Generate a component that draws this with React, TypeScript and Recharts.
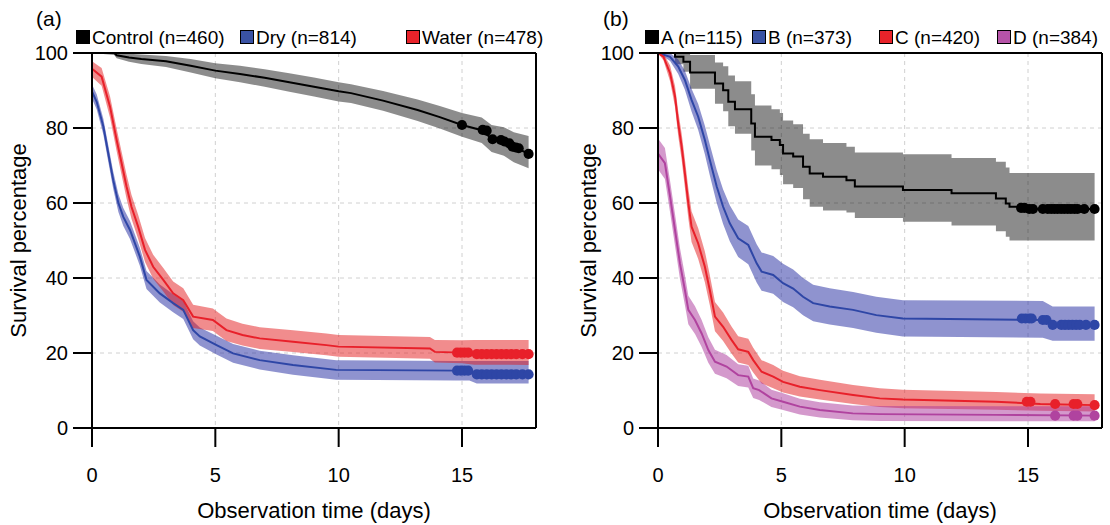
import React from 'react';
import {
  ComposedChart,
  Line,
  Area,
  Scatter,
  XAxis,
  YAxis,
  ZAxis,
  CartesianGrid,
  ReferenceLine,
} from 'recharts';

// ---- panel (a) ----
const controlT = [0, 0.9, 1.0, 1.5, 2, 3, 4, 5, 6, 7, 8, 9, 10, 10.5, 11.8, 13.2, 14.1, 15, 15.8, 16.2, 16.7, 17.1, 17.7];
const controlS = [100, 100, 99.4, 98.8, 98.4, 97.8, 96.6, 95.3, 94.4, 93.4, 92.2, 91.0, 89.8, 89.3, 87.3, 84.8, 82.9, 80.8, 79.4, 77.2, 76.4, 75.0, 73.1];
const controlHi = [100, 100, 100, 99.8, 99.6, 99.2, 98.4, 97.3, 96.6, 95.7, 94.6, 93.5, 92.2, 91.7, 89.9, 87.6, 85.9, 84.0, 82.8, 80.8, 80.2, 78.9, 77.9];
const controlLo = [100, 99.5, 98.6, 97.7, 97.1, 96.3, 94.8, 93.3, 92.2, 91.0, 89.7, 88.4, 87.1, 86.7, 84.6, 81.9, 79.9, 77.7, 76.0, 73.6, 72.6, 70.9, 69.3];
const controlCensT = [15.0, 15.84, 16.0, 16.24, 16.58, 16.72, 16.92, 17.05, 17.18, 17.3, 17.7];
const controlCensS = [80.8, 79.5, 79.3, 77.0, 76.8, 76.4, 75.9, 75.0, 74.8, 74.6, 73.1];

const dryT = [0, 0.19, 0.46, 0.66, 0.86, 1.07, 1.27, 1.54, 1.94, 2.21, 2.75, 3.29, 3.7, 4.1, 4.37, 5.05, 5.72, 6.8, 8.15, 9.9, 14.8, 15.3, 15.6, 17.7];
const dryS = [89.7, 87, 80.4, 73.2, 66.1, 60, 56.3, 52.8, 45.7, 39.5, 35.9, 33.3, 31.5, 26.1, 24.4, 22.1, 19.9, 18.1, 16.8, 15.5, 15.3, 15.3, 14.3, 14.3];
const dryHi = [91.6, 89, 82.5, 75.4, 68.4, 62.4, 58.7, 55.2, 48.1, 41.9, 38.3, 35.7, 33.9, 28.5, 26.8, 24.6, 22.4, 20.6, 19.4, 18.1, 17.9, 17.9, 17.9, 17.9];
const dryLo = [87.8, 85, 78.3, 71.0, 63.8, 57.6, 53.9, 50.4, 43.3, 37.1, 33.5, 30.9, 29.1, 23.7, 22.0, 19.6, 17.4, 15.6, 14.2, 12.9, 12.7, 12.7, 11.9, 11.9];
const dryCensT = [14.8, 14.95, 15.1, 15.25, 15.6, 15.8, 16.0, 16.2, 16.4, 16.6, 16.8, 17.0, 17.2, 17.45, 17.7];
const dryCensS = [15.3, 15.3, 15.3, 15.3, 14.3, 14.3, 14.3, 14.3, 14.3, 14.3, 14.3, 14.3, 14.3, 14.3, 14.3];

const waterT = [0, 0.39, 0.73, 1.0, 1.2, 1.4, 1.6, 1.87, 2.15, 2.48, 2.89, 3.29, 3.7, 4.1, 4.9, 5.45, 6.1, 6.8, 8.15, 9.5, 10.0, 13.7, 13.9, 15.0, 15.5, 17.7];
const waterS = [95.8, 93.7, 85.7, 76.8, 70.6, 64.4, 59, 53.7, 47.5, 43, 39.5, 35.9, 34.1, 29.7, 28.8, 26.1, 24.8, 23.9, 23, 22.1, 21.7, 21.2, 20.3, 20.1, 19.7, 19.7];
const waterHi = [97.8, 96, 88.5, 79.8, 73.7, 67.6, 62.2, 56.9, 50.7, 46.2, 42.7, 39.1, 37.3, 32.9, 31.9, 29.2, 27.8, 26.9, 26.1, 25.2, 24.8, 24.3, 23.5, 23.4, 23.5, 23.5];
const waterLo = [93.6, 91.3, 82.8, 73.8, 67.5, 61.2, 55.8, 50.5, 44.3, 39.8, 36.4, 32.8, 31.0, 26.7, 25.9, 23.2, 22.0, 21.1, 20.3, 19.4, 19.0, 18.5, 17.5, 17.3, 16.9, 16.8];
const waterCensT = [14.8, 14.95, 15.1, 15.25, 15.6, 15.8, 16.0, 16.2, 16.4, 16.6, 16.8, 17.0, 17.2, 17.45, 17.7];
const waterCensS = [20.1, 20.1, 20.1, 20.1, 19.7, 19.7, 19.7, 19.7, 19.7, 19.7, 19.7, 19.7, 19.7, 19.7, 19.7];

// ---- panel (b) ----
const aT = [0, 0.69, 1.03, 1.3, 2.31, 2.64, 2.85, 3.12, 3.78, 3.93, 4.6, 4.94, 5.07, 5.48, 5.88, 6.15, 6.69, 7.64, 7.98, 9.93, 11.9, 13.7, 14.1, 14.25, 14.7, 17.7];
const aS = [100, 99, 97.7, 94.8, 91.9, 90.1, 87, 85, 81.2, 77.7, 76.8, 75.5, 73.2, 72.4, 69.7, 67.9, 67, 66.1, 64.4, 63.5, 62.6, 61.2, 59.9, 59, 58.4, 58.4];
const aHi = [100, 100, 100, 99.5, 97.5, 96.5, 94, 92.5, 89, 86, 85, 84, 82, 81, 78.5, 77, 76, 75, 73.5, 73, 72, 71, 69.5, 68, 68, 68];
const aLo = [100, 97, 95, 90.5, 86.5, 84.5, 80.5, 78.5, 74, 70, 69, 67.5, 65, 64, 61, 59, 58, 57.5, 56, 55, 54, 52.5, 51, 50, 50, 50];
const aCensT = [14.72, 14.85, 15.05, 15.2, 15.6, 15.8, 15.94, 16.07, 16.2, 16.34, 16.47, 16.61, 16.74, 16.88, 17.01, 17.28, 17.7];
const aCensS = [58.7, 58.7, 58.4, 58.4, 58.4, 58.4, 58.4, 58.4, 58.4, 58.4, 58.4, 58.4, 58.4, 58.4, 58.4, 58.4, 58.4];

const bT = [0, 0.49, 0.82, 1.09, 1.36, 1.63, 1.9, 2.1, 2.38, 2.64, 2.91, 3.25, 3.66, 4.0, 4.2, 4.67, 5.07, 5.48, 5.88, 6.29, 6.96, 7.91, 8.85, 9.93, 15.6, 16.0, 17.7];
const bS = [100, 99, 96.4, 92.8, 87.5, 83, 76.8, 71.5, 64.4, 59, 54.6, 50.6, 48.8, 43.9, 41.7, 40.8, 38.6, 37.2, 35, 33.3, 32.4, 31.5, 30.1, 29.2, 28.8, 27.5, 27.5];
const bHi = [100, 100, 98.3, 95.3, 90.5, 86.4, 80.6, 75.6, 68.8, 63.6, 59.4, 55.6, 53.9, 49.0, 46.8, 45.9, 43.8, 42.3, 40.0, 38.2, 37.3, 36.3, 35.0, 34.1, 33.9, 32.4, 32.4];
const bLo = [100, 97.9, 94.4, 90.2, 84.4, 79.5, 73.0, 67.4, 60.0, 54.4, 49.8, 45.6, 43.7, 38.8, 36.6, 35.8, 33.6, 32.2, 30.1, 28.5, 27.6, 26.7, 25.4, 24.4, 24.1, 23.3, 23.3];
const bCensT = [14.75, 14.9, 15.05, 15.15, 15.6, 15.75, 16.0, 16.35, 16.5, 16.65, 16.8, 16.95, 17.1, 17.35, 17.7];
const bCensS = [29.2, 29.2, 29.2, 29.2, 28.8, 28.8, 27.5, 27.5, 27.5, 27.5, 27.5, 27.5, 27.5, 27.5, 27.5];

const cT = [0, 0.22, 0.49, 0.69, 0.82, 0.96, 1.09, 1.23, 1.36, 1.63, 1.9, 2.1, 2.31, 2.64, 2.98, 3.25, 3.66, 3.86, 4.2, 4.67, 5.07, 5.75, 6.56, 7.91, 8.99, 9.93, 13.7, 15.5, 17.7];
const cS = [100, 99, 94.6, 88.4, 81.2, 75, 67.9, 59.9, 53.7, 49.2, 43, 36.8, 29.7, 27, 23.5, 21, 20.3, 18.1, 15, 13.7, 12.3, 11, 10.1, 8.8, 7.9, 7.6, 7.0, 6.4, 6.1];
const cHi = [100, 99.9, 96.7, 91.2, 84.5, 78.5, 71.7, 63.9, 57.8, 53.3, 47.1, 40.8, 33.6, 30.8, 27.1, 24.5, 23.8, 21.4, 18.1, 16.8, 15.3, 13.8, 12.9, 11.5, 10.6, 10.2, 9.6, 9.2, 9.0];
const cLo = [100, 98.1, 92.5, 85.6, 77.9, 71.5, 64.1, 55.9, 49.6, 45.1, 38.9, 32.8, 25.8, 23.2, 19.9, 17.5, 16.8, 14.8, 11.9, 10.6, 9.5, 8.4, 7.6, 6.4, 5.6, 5.3, 4.9, 4.6, 4.4];
const cCensT = [14.95, 15.1, 16.1, 16.85, 17.0, 17.7];
const cCensS = [7.0, 7.0, 6.4, 6.4, 6.4, 6.1];

const dT = [0, 0.28, 0.49, 0.69, 0.89, 1.09, 1.23, 1.5, 1.77, 2.04, 2.31, 2.78, 3.25, 3.66, 3.86, 4.1, 4.6, 5.07, 5.75, 6.56, 7.9, 9.0, 13.7, 17.7];
const dS = [73.2, 70.6, 61.7, 52.8, 43.9, 36.8, 31.5, 28.8, 25.2, 20.8, 17.7, 16.4, 14.1, 13.7, 10.6, 10.1, 7.9, 7.0, 5.7, 4.8, 3.9, 3.7, 3.5, 3.3];
const dHi = [77.2, 74.7, 65.9, 57.0, 48.0, 40.8, 35.3, 32.5, 28.8, 24.2, 20.9, 19.5, 17.0, 16.6, 13.2, 12.7, 10.2, 9.3, 7.8, 6.9, 6.0, 5.9, 5.8, 5.8];
const dLo = [69.0, 66.4, 57.5, 48.6, 39.8, 32.8, 27.7, 25.1, 21.6, 17.4, 14.5, 13.3, 11.2, 10.8, 8.0, 7.5, 5.6, 4.8, 3.6, 2.8, 2.1, 1.9, 1.8, 1.8];
const dCensT = [16.1, 16.85, 17.0, 17.7];
const dCensS = [3.3, 3.3, 3.3, 3.3];

const xTicks = [0, 5, 10, 15];
const yTicks = [0, 20, 40, 60, 80, 100];

const rows = (t: number[], s: number[], lo: number[], hi: number[]) =>
  t.map((x, i) => ({ t: x, s: s[i], band: [lo[i], hi[i]] }));
const pts = (t: number[], s: number[]) => t.map((x, i) => ({ t: x, s: s[i] }));

type Group = {
  name: string;
  line: string;
  band: string;
  bandOpacity: number;
  curve: 'linear' | 'stepAfter';
  rows: { t: number; s: number; band: number[] }[];
  cens: { t: number; s: number }[];
};

const BLACK = '#000000';
const BLUE = '#2e46a6';
const RED = '#e8202a';
const MAGENTA = '#b0439f';

const groupsA: Group[] = [
  { name: 'Control', line: BLACK, band: '#000000', bandOpacity: 0.45, curve: 'linear', rows: rows(controlT, controlS, controlLo, controlHi), cens: pts(controlCensT, controlCensS) },
  { name: 'Dry', line: BLUE, band: '#1f27a0', bandOpacity: 0.5, curve: 'linear', rows: rows(dryT, dryS, dryLo, dryHi), cens: pts(dryCensT, dryCensS) },
  { name: 'Water', line: RED, band: '#e41a1c', bandOpacity: 0.5, curve: 'linear', rows: rows(waterT, waterS, waterLo, waterHi), cens: pts(waterCensT, waterCensS) },
];

const groupsB: Group[] = [
  { name: 'A', line: BLACK, band: '#000000', bandOpacity: 0.45, curve: 'stepAfter', rows: rows(aT, aS, aLo, aHi), cens: pts(aCensT, aCensS) },
  { name: 'B', line: BLUE, band: '#1f27a0', bandOpacity: 0.5, curve: 'linear', rows: rows(bT, bS, bLo, bHi), cens: pts(bCensT, bCensS) },
  { name: 'C', line: RED, band: '#e41a1c', bandOpacity: 0.5, curve: 'linear', rows: rows(cT, cS, cLo, cHi), cens: pts(cCensT, cCensS) },
  { name: 'D', line: MAGENTA, band: '#a93399', bandOpacity: 0.5, curve: 'linear', rows: rows(dT, dS, dLo, dHi), cens: pts(dCensT, dCensS) },
];

const legendA = [
  { label: 'Control (n=460)', color: BLACK, x: 76 },
  { label: 'Dry (n=814)', color: '#3a53a4', x: 240 },
  { label: 'Water (n=478)', color: '#e8232a', x: 406 },
];
const legendB = [
  { label: 'A (n=115)', color: BLACK, x: 645 },
  { label: 'B (n=373)', color: '#3a53a4', x: 752 },
  { label: 'C (n=420)', color: '#e8232a', x: 879 },
  { label: 'D (n=384)', color: '#b653a8', x: 997 },
];

const axisStroke = { stroke: '#000', strokeWidth: 2 };

function Panel({ groups, left, width, marginLeft, marginRight, labelOffset }: {
  groups: Group[]; left: number; width: number; marginLeft: number; marginRight: number; labelOffset: number;
}) {
  return (
    <div style={{ position: 'absolute', left, top: 0 }}>
      <ComposedChart width={width} height={525} margin={{ top: 53, right: marginRight, bottom: 2, left: marginLeft }}>
        <CartesianGrid stroke="#d0d0d0" strokeDasharray="4 4" />
        <XAxis
          type="number"
          dataKey="t"
          domain={[0, 18]}
          ticks={xTicks}
          allowDataOverflow
          height={95}
          tickSize={19}
          tickMargin={21}
          axisLine={axisStroke}
          tickLine={axisStroke}
          tick={{ fontSize: 20, fill: '#000' }}
          label={{ value: 'Observation time (days)', position: 'insideBottom', offset: 5, style: { fontSize: 22, fill: '#000' } }}
        />
        <YAxis
          type="number"
          domain={[0, 100]}
          ticks={yTicks}
          allowDataOverflow
          width={80}
          tickSize={19}
          tickMargin={5}
          axisLine={axisStroke}
          tickLine={axisStroke}
          tick={{ fontSize: 20, fill: '#000' }}
          label={{ value: 'Survival percentage', angle: -90, position: 'insideLeft', offset: labelOffset, style: { textAnchor: 'middle', fontSize: 22, fill: '#000' } }}
        />
        <ZAxis range={[80, 80]} />
        {groups.map((g) => (
          <Area
            key={`band-${g.name}`}
            type={g.curve}
            data={g.rows}
            dataKey="band"
            stroke="none"
            fill={g.band}
            fillOpacity={g.bandOpacity}
            isAnimationActive={false}
            activeDot={false}
          />
        ))}
        {groups.map((g) => (
          <Line
            key={`line-${g.name}`}
            type={g.curve}
            data={g.rows}
            dataKey="s"
            stroke={g.line}
            strokeWidth={2}
            dot={false}
            activeDot={false}
            isAnimationActive={false}
          />
        ))}
        {groups.map((g) => (
          <Scatter key={`cens-${g.name}`} data={g.cens} dataKey="s" fill={g.line} isAnimationActive={false} />
        ))}
        <ReferenceLine y={100} stroke="#000" strokeWidth={2} />
        <ReferenceLine x={18} stroke="#000" strokeWidth={2} />
      </ComposedChart>
    </div>
  );
}

function Legend({ items }: { items: { label: string; color: string; x: number }[] }) {
  return (
    <>
      {items.map((it) => (
        <g key={it.label}>
          <rect x={it.x + 0.5} y={30.5} width={13} height={13} fill={it.color} stroke="#000" strokeWidth={1} />
          <text x={it.x + 16} y={43.5} fontSize={19} fill="#000">{it.label}</text>
        </g>
      ))}
    </>
  );
}

export default function App() {
  return (
    <div style={{ position: 'absolute', left: 0, top: 0, width: 1110, height: 525, background: '#fff', fontFamily: '"Liberation Sans", Arial, sans-serif' }}>
      <Panel groups={groupsA} left={0} width={560} marginLeft={12} marginRight={24} labelOffset={6} />
      <Panel groups={groupsB} left={560} width={550} marginLeft={18} marginRight={8} labelOffset={10} />
      <svg width={1110} height={60} style={{ position: 'absolute', left: 0, top: 0 }}>
        <text x={36} y={26} fontSize={21} fill="#000">(a)</text>
        <text x={603} y={26} fontSize={21} fill="#000">(b)</text>
        <Legend items={legendA} />
        <Legend items={legendB} />
      </svg>
    </div>
  );
}
